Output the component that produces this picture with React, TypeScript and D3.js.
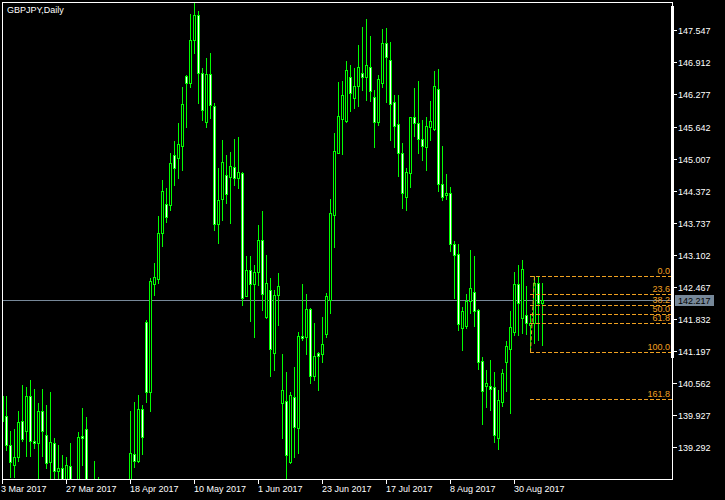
import React from 'react';
import * as d3 from 'd3';

// Daily GBPJPY bars, 3 Mar 2017 .. 8 Sep 2017 (index 0..135)
const opens = [
  140.31, 139.91, 139.33, 138.94, 139.10, 139.81, 139.62, 140.31, 139.42, 139.38,
  140.01, 139.53, 139.00, 139.38, 138.82, 138.88, 138.45, 138.92, 138.30, 138.20,
  139.52, 139.65, 138.30, 138.05, 138.50, 137.90, 137.50, 137.30, 136.60, 136.20,
  136.10, 136.00, 136.50, 139.16, 139.03, 140.05, 141.78, 140.39, 142.53, 142.63,
  143.53, 144.11, 144.08, 145.07, 145.01, 145.26, 146.64, 146.50, 147.35, 147.85,
  146.70, 145.74, 146.68, 146.04, 143.71, 144.20, 144.68, 144.65, 144.84, 144.62,
  144.72, 142.29, 142.80, 142.52, 142.76, 143.40, 141.87, 142.41, 141.15, 142.30,
  140.16, 140.20, 139.01, 140.29, 139.67, 141.50, 141.47, 142.03, 140.71, 141.15,
  141.14, 141.53, 142.21, 143.89, 145.12, 145.79, 145.76, 146.62, 146.21, 146.45,
  146.70, 146.63, 146.82, 146.23, 145.74, 146.50, 147.30, 146.95, 146.12, 145.69,
  145.11, 144.24, 144.72, 145.83, 145.71, 145.39, 145.23, 145.63, 145.59, 146.38,
  144.50, 144.28, 144.32, 143.31, 143.11, 141.65, 141.70, 142.18, 142.36, 142.01,
  141.00, 140.51, 140.50, 140.48, 139.48, 140.18, 140.98, 141.23, 141.58, 142.53,
  141.85, 141.91, 141.71, 141.75, 142.54, 142.14,
];
const highs = [
  140.35, 140.31, 139.62, 139.66, 140.01, 140.53, 140.48, 140.63, 140.45, 140.16,
  140.45, 140.13, 140.39, 139.48, 139.33, 139.14, 139.10, 139.37, 138.60, 139.59,
  140.07, 139.89, 138.55, 139.02, 138.71, 138.40, 137.80, 137.50, 136.90, 136.70,
  136.40, 136.60, 140.01, 140.18, 140.33, 140.13, 141.81, 142.64, 142.94, 143.87,
  144.58, 144.42, 145.11, 145.35, 145.71, 146.42, 146.66, 147.87, 148.08, 147.92,
  146.80, 146.99, 147.09, 146.10, 144.82, 145.38, 145.08, 145.14, 145.39, 145.44,
  144.75, 143.08, 143.08, 142.90, 143.69, 143.96, 143.10, 142.64, 142.41, 142.74,
  141.14, 140.79, 140.39, 140.89, 141.58, 142.53, 142.33, 142.05, 141.76, 141.18,
  141.88, 142.34, 144.21, 145.52, 146.53, 146.54, 146.93, 146.86, 146.81, 147.26,
  147.62, 147.77, 147.43, 146.37, 146.66, 147.57, 147.59, 147.32, 146.27, 146.27,
  145.31, 144.82, 145.84, 146.41, 146.54, 145.77, 145.84, 146.15, 146.75, 146.78,
  145.26, 144.70, 144.44, 143.38, 143.32, 142.06, 142.33, 143.19, 143.08, 142.03,
  141.07, 140.82, 141.02, 140.79, 140.43, 140.84, 141.40, 141.99, 142.77, 142.90,
  143.00, 142.49, 141.91, 142.684, 142.67, 142.54,
];
const lows = [
  139.73, 139.24, 138.70, 138.70, 139.03, 139.42, 139.12, 139.12, 139.28, 138.60,
  139.12, 138.88, 138.60, 138.55, 138.50, 138.20, 138.30, 138.10, 137.90, 138.00,
  138.94, 138.10, 137.80, 137.70, 137.60, 137.30, 136.90, 136.20, 135.90, 135.80,
  135.70, 135.60, 136.30, 138.91, 139.00, 139.16, 140.18, 140.02, 142.31, 142.55,
  143.28, 143.76, 143.99, 144.49, 144.62, 144.78, 145.64, 146.42, 147.09, 146.11,
  145.77, 145.64, 145.81, 143.59, 143.33, 143.79, 144.12, 143.74, 144.49, 144.42,
  142.11, 142.28, 141.80, 141.47, 142.51, 142.01, 141.85, 140.70, 140.82, 141.71,
  139.48, 138.62, 138.99, 139.10, 139.17, 141.42, 141.14, 140.56, 140.63, 140.43,
  140.99, 141.47, 141.95, 143.25, 145.11, 145.10, 145.74, 145.94, 146.00, 146.04,
  146.37, 146.17, 146.15, 145.24, 145.67, 146.43, 146.13, 145.38, 145.24, 144.67,
  144.02, 143.99, 144.44, 145.46, 145.11, 144.98, 144.78, 145.38, 145.57, 144.37,
  144.19, 144.20, 143.17, 142.25, 141.62, 141.22, 141.65, 141.95, 141.69, 140.84,
  139.75, 140.09, 140.03, 139.40, 139.26, 140.10, 140.41, 139.98, 141.52, 141.52,
  141.55, 141.54, 141.173, 141.35, 141.42, 141.32,
];
const closes = [
  139.82, 139.33, 139.01, 139.10, 139.79, 139.45, 140.31, 139.42, 139.38, 140.01,
  139.62, 138.99, 139.39, 138.82, 138.88, 138.40, 138.94, 138.30, 138.20, 139.50,
  139.48, 138.30, 138.00, 138.55, 137.90, 137.50, 137.30, 136.60, 136.20, 136.10,
  136.00, 136.50, 139.17, 139.03, 140.05, 139.50, 140.39, 142.58, 142.67, 143.53,
  144.36, 143.85, 144.92, 144.82, 145.30, 146.08, 146.51, 147.35, 147.85, 146.70,
  145.96, 146.68, 146.06, 143.71, 144.19, 144.93, 144.30, 144.86, 144.62, 144.74,
  142.25, 142.80, 142.53, 142.76, 143.40, 142.32, 142.54, 141.23, 142.31, 142.49,
  140.43, 139.13, 140.33, 139.69, 141.50, 141.45, 142.03, 140.70, 141.10, 141.09,
  141.34, 142.29, 143.93, 145.16, 145.85, 146.27, 146.76, 146.31, 146.45, 146.82,
  146.63, 146.86, 146.35, 145.74, 146.58, 147.29, 147.01, 146.08, 145.66, 145.11,
  144.33, 144.74, 145.83, 145.71, 145.39, 145.26, 145.65, 145.75, 146.45, 144.50,
  144.24, 144.32, 143.31, 143.10, 141.73, 141.99, 142.19, 142.44, 142.00, 140.98,
  140.41, 140.56, 140.44, 139.54, 140.23, 140.76, 141.30, 141.67, 142.53, 142.14,
  142.82, 141.76, 141.76, 142.54, 142.14, 142.217,
];

const priceTicks = [147.547, 146.912, 146.277, 145.642, 145.007, 144.372, 143.737, 143.102, 142.467, 141.832, 141.197, 140.562, 139.927, 139.292];
const dateTickBars = [0, 16, 32, 48, 64, 80, 96, 112, 128];
const dateTickLabels = ['3 Mar 2017', '27 Mar 2017', '18 Apr 2017', '10 May 2017', '1 Jun 2017', '23 Jun 2017', '17 Jul 2017', '8 Aug 2017', '30 Aug 2017'];

const fibLevels = [0, 23.6, 38.2, 50, 61.8, 100, 161.8];
const fibLowBar = 132;
const fibHighBar = 133;
const fibLow = 141.173;
const fibHigh = 142.684;
const currentPrice = 142.217;
const title = 'GBPJPY,Daily';

const GREEN = '#00ff00';
const FIB = '#f0a020';
const BIDLINE = '#778899';
const FONT = 'Liberation Sans, Arial, sans-serif';

export default function App() {
  const W = 725;
  const H = 500;
  const left = 2, top = 2, right = 672, bottom = 479;
  const x = d3.scaleLinear().domain([0, 135]).range([2, 542]);
  const y = d3.scaleLinear().domain([139.292, 147.547]).range([447.3, 30.3]);
  const ry = (p: number) => Math.round(y(p));

  const bars = opens.map((o, i) => ({ i, o, h: highs[i], l: lows[i], c: closes[i] }));

  const fibY = (lv: number) => fibHigh - (fibHigh - fibLow) * lv / 100;
  const fibX0 = x(fibLowBar);

  const bidY = ry(currentPrice);

  return (
    <svg width={W} height={H} style={{ position: 'absolute', left: 0, top: 0, display: 'block', background: '#000' }}
      shapeRendering="crispEdges">
      <defs>
        <clipPath id="plot">
          <rect x={left + 1} y={top + 1} width={right - left - 1} height={bottom - top - 1} />
        </clipPath>
      </defs>
      <rect x={0} y={0} width={W} height={H} fill="#000" />
      <g clipPath="url(#plot)">
        {/* bid line */}
        <line x1={left} x2={right} y1={bidY + 0.5} y2={bidY + 0.5} stroke={BIDLINE} strokeWidth={1} />
        {bars.map((b) => {
          const cx = Math.round(x(b.i));
          const yh = ry(b.h);
          const yl = ry(b.l);
          const bt = ry(Math.max(b.o, b.c));
          const bb = ry(Math.min(b.o, b.c));
          const bear = b.c < b.o;
          return (
            <g key={b.i}>
              <rect x={cx} y={yh} width={1} height={yl - yh + 1} fill={GREEN} />
              <rect x={cx - 1} y={bt} width={3} height={bb - bt + 1} fill={GREEN} />
              {bb - bt - 1 > 0 && (
                <rect x={cx} y={bt + 1} width={1} height={bb - bt - 1} fill={bear ? '#ffffff' : '#000000'} />
              )}
            </g>
          );
        })}
        {/* fibonacci */}
        <line x1={x(fibLowBar) + 0.5} y1={y(fibLow)} x2={x(fibHighBar) + 0.5} y2={y(fibHigh)}
          stroke={FIB} strokeWidth={1} strokeDasharray="4,2" shapeRendering="auto" />
        {fibLevels.map((lv) => {
          const yy = ry(fibY(lv));
          return (
            <g key={lv}>
              <line x1={fibX0} x2={right} y1={yy + 0.5} y2={yy + 0.5} stroke={FIB} strokeWidth={1} strokeDasharray="4,2" />
              <text x={670} y={yy - 2} fill={FIB} fontFamily={FONT} fontSize={9} textAnchor="end"
                shapeRendering="auto">{lv.toFixed(1)}</text>
            </g>
          );
        })}
      </g>
      {/* frame */}
      <line x1={left + 0.5} x2={left + 0.5} y1={top} y2={bottom + 1} stroke="#fff" />
      <line x1={left} x2={right + 1} y1={top + 0.5} y2={top + 0.5} stroke="#fff" />
      <line x1={left} x2={right + 1} y1={bottom + 0.5} y2={bottom + 0.5} stroke="#fff" />
      <line x1={right + 0.5} x2={right + 0.5} y1={top} y2={bottom + 1} stroke="#fff" />
      <rect x={671} y={6} width={3} height={352} fill="#fff" />
      {/* price axis */}
      {priceTicks.map((p) => {
        const yy = ry(p);
        return (
          <g key={p}>
            <line x1={right} x2={677} y1={yy + 0.5} y2={yy + 0.5} stroke="#fff" />
            <text x={678} y={yy + 3.5} fill="#fff" fontFamily={FONT} fontSize={9}>{p.toFixed(3)}</text>
          </g>
        );
      })}
      <rect x={675} y={bidY - 5} width={39} height={11} fill={BIDLINE} />
      <text x={678} y={bidY + 3.5} fill="#000" fontFamily={FONT} fontSize={9}>{currentPrice.toFixed(3)}</text>
      {/* date axis */}
      {dateTickBars.map((bi, j) => {
        const xx = Math.round(x(bi));
        return (
          <g key={bi}>
            <line x1={xx + 0.5} x2={xx + 0.5} y1={bottom} y2={bottom + 5} stroke="#fff" />
            <text x={j === 0 ? 1 : xx} y={492} fill="#fff" fontFamily={FONT} fontSize={9}>{dateTickLabels[j]}</text>
          </g>
        );
      })}
      <text x={7} y={13} fill="#fff" fontFamily={FONT} fontSize={9}>{title}</text>
    </svg>
  );
}
